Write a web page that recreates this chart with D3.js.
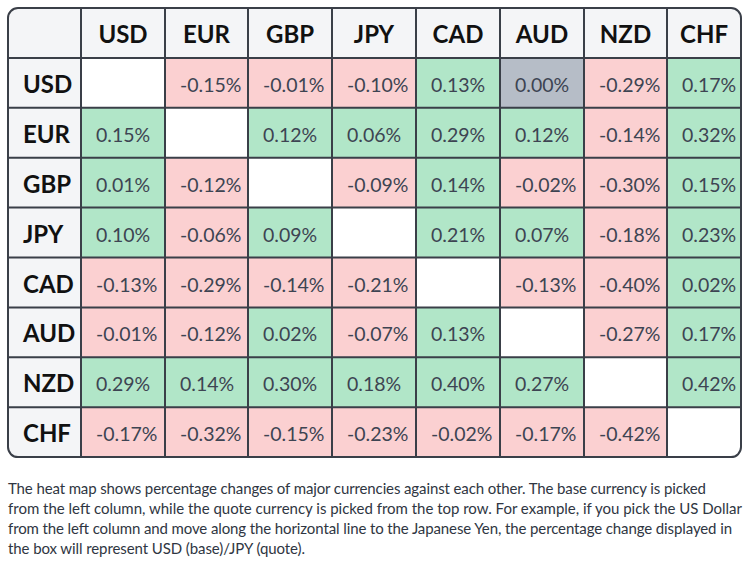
<!DOCTYPE html>
<html>
<head>
<meta charset="utf-8">
<script src="https://cdn.jsdelivr.net/npm/d3@7"></script>
<style>
  body { margin: 0; background: #fff; }
  svg { display: block; font-family: Lato, "Noto Sans", sans-serif; }
</style>
</head>
<body>
<div id="chart"></div>
<script>
// Currencies: base = rows (left column), quote = columns (top row)
const currencies = ['USD', 'EUR', 'GBP', 'JPY', 'CAD', 'AUD', 'NZD', 'CHF'];

// Percentage change, one array per base currency (null on the diagonal)
const usdRow = [null, -0.15, -0.01, -0.10, 0.13, 0.00, -0.29, 0.17];
const eurRow = [0.15, null, 0.12, 0.06, 0.29, 0.12, -0.14, 0.32];
const gbpRow = [0.01, -0.12, null, -0.09, 0.14, -0.02, -0.30, 0.15];
const jpyRow = [0.10, -0.06, 0.09, null, 0.21, 0.07, -0.18, 0.23];
const cadRow = [-0.13, -0.29, -0.14, -0.21, null, -0.13, -0.40, 0.02];
const audRow = [-0.01, -0.12, 0.02, -0.07, 0.13, null, -0.27, 0.17];
const nzdRow = [0.29, 0.14, 0.30, 0.18, 0.40, 0.27, null, 0.42];
const chfRow = [-0.17, -0.32, -0.15, -0.23, -0.02, -0.17, -0.42, null];
const rows = [usdRow, eurRow, gbpRow, jpyRow, cadRow, audRow, nzdRow, chfRow];

const captionLines = [
    'The heat map shows percentage changes of major currencies against each other. The base currency is picked',
    'from the left column, while the quote currency is picked from the top row. For example, if you pick the US Dollar',
    'from the left column and move along the horizontal line to the Japanese Yen, the percentage change displayed in',
    'the box will represent USD (base)/JPY (quote).'
];

// Layout (table columns are sized like the original auto-layout table)
const width = 746, height = 563;
const tableLeft = 8, tableTop = 8, rowH = 49.9;
const colWidths = [73, 84, 83, 84, 84, 84, 84, 83, 74];
const captionWidths = [698, 734, 724, 297]; // rendered width of each caption line
const colStarts = colWidths.reduce((acc, w, i) => { acc.push(acc[i] + w); return acc; }, [tableLeft]);
const tableW = colStarts[colStarts.length - 1] - tableLeft;
const tableH = rowH * (currencies.length + 1);

// column index -> x, row index -> y
const x = d3.scaleOrdinal().domain(d3.range(colStarts.length)).range(colStarts);
const y = d3.scaleLinear().domain([0, currencies.length + 1]).range([tableTop, tableTop + tableH]);

const color = v => v === null ? '#ffffff' : v > 0 ? '#b1e6c8' : v < 0 ? '#fbd0d1' : '#b6bdc7';
// plain hyphen for the sign, like the original
const fmt = v => v.toFixed(2) + '%';

const svg = d3.select('#chart').append('svg')
    .attr('width', width)
    .attr('height', height);

svg.append('defs').append('clipPath').attr('id', 'table-clip')
    .append('rect')
    .attr('x', tableLeft).attr('y', tableTop)
    .attr('width', tableW).attr('height', tableH)
    .attr('rx', 10);

const table = svg.append('g').attr('clip-path', 'url(#table-clip)');

// Header backgrounds
table.append('rect')
    .attr('x', tableLeft).attr('y', tableTop)
    .attr('width', tableW).attr('height', y(1) - y(0))
    .attr('fill', '#f4f5f7');
table.append('rect')
    .attr('x', tableLeft).attr('y', tableTop)
    .attr('width', colWidths[0]).attr('height', tableH)
    .attr('fill', '#f4f5f7');

// Cells
const cells = [];
rows.forEach((r, i) => r.forEach((v, j) => cells.push({ i, j, v })));

table.selectAll('rect.cell')
    .data(cells)
    .enter()
    .append('rect')
    .attr('class', 'cell')
    .attr('x', d => x(d.j + 1))
    .attr('y', d => y(d.i + 1))
    .attr('width', d => colWidths[d.j + 1])
    .attr('height', rowH)
    .attr('fill', d => color(d.v));

table.selectAll('text.val')
    .data(cells.filter(d => d.v !== null))
    .enter()
    .append('text')
    .attr('class', 'val')
    .attr('x', d => x(d.j + 1) + 15)
    .attr('y', d => y(d.i + 1) + 34)
    .attr('font-size', 19.5)
    .attr('fill', '#3d4452')
    .text(d => fmt(d.v));

// Grid lines
const grid = svg.append('g')
    .attr('stroke', '#3a3f48')
    .attr('stroke-width', 2);

grid.selectAll('line.v')
    .data(colStarts.slice(1, -1))
    .enter()
    .append('line')
    .attr('x1', d => d).attr('x2', d => d)
    .attr('y1', tableTop).attr('y2', tableTop + tableH);

grid.selectAll('line.h')
    .data(d3.range(1, currencies.length + 1))
    .enter()
    .append('line')
    .attr('x1', tableLeft).attr('x2', tableLeft + tableW)
    .attr('y1', d => y(d)).attr('y2', d => y(d));

grid.append('rect')
    .attr('x', tableLeft).attr('y', tableTop)
    .attr('width', tableW).attr('height', tableH)
    .attr('rx', 10)
    .attr('fill', 'none');

// Column headers (quote currencies)
svg.append('g').selectAll('text')
    .data(currencies)
    .enter()
    .append('text')
    .attr('x', (d, j) => x(j + 1) + colWidths[j + 1] / 2)
    .attr('y', tableTop + 35)
    .attr('text-anchor', 'middle')
    .attr('font-size', 24)
    .attr('font-weight', 'bold')
    .attr('fill', '#111')
    .text(d => d);

// Row headers (base currencies)
svg.append('g').selectAll('text')
    .data(currencies)
    .enter()
    .append('text')
    .attr('x', tableLeft + 15)
    .attr('y', (d, i) => y(i + 1) + 35)
    .attr('font-size', 24)
    .attr('font-weight', 'bold')
    .attr('fill', '#111')
    .text(d => d);

// Caption
svg.append('g')
    .attr('font-size', 15)
    .attr('fill', '#2f3642')
    .selectAll('text')
    .data(captionLines)
    .enter()
    .append('text')
    .attr('x', tableLeft)
    .attr('y', (d, i) => 494 + i * 20)
    .attr('textLength', (d, i) => captionWidths[i])
    .attr('lengthAdjust', 'spacing')
    .text(d => d);
</script>
</body>
</html>
